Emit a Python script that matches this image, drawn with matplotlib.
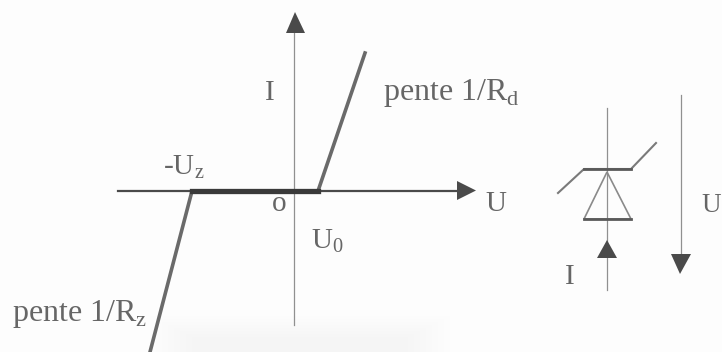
import matplotlib
matplotlib.use("Agg")
import matplotlib.pyplot as plt
from matplotlib.patches import Polygon, Rectangle

plt.rcParams['font.family'] = ['Liberation Serif', 'DejaVu Serif']
plt.rcParams['mathtext.fontset'] = 'custom'
plt.rcParams['mathtext.rm'] = 'Liberation Serif'

# characteristic I(U), in picture units
curve_u = [150, 192, 318, 365]
curve_i = [352, 191, 191, 53]

# diode symbol
bar_x = [558, 584, 631, 656]
bar_y = [193, 169, 169, 143]
tri_x = [607, 584, 631]
tri_y = [172, 219, 219]

slope_labels = ["pente 1/R$_{\\mathrm{d}}$", "pente 1/R$_{\\mathrm{z}}$"]
point_labels = ["-U$_{\\mathrm{z}}$", "U$_{\\mathrm{0}}$", "o"]
axis_labels = ["I", "U"]

DARK = "#4a4a4a"
MID = "#909090"
TEXT = "#666666"

fig = plt.figure(figsize=(7.22, 3.52), dpi=100, facecolor="#fdfdfd")
ax = fig.add_axes([0, 0, 1, 1])
ax.set_xlim(0, 722)
ax.set_ylim(352, 0)
ax.axis("off")


def put(x, y, s, size=21, ha="left"):
    ax.text(x, y, s, ha=ha, va="baseline", fontsize=size, color=TEXT)


# scan smudge at the bottom
for i in range(8):
    ax.add_patch(Rectangle((150 + 6 * i, 316 + 3 * i), 300 - 12 * i, 40, color="k", alpha=0.005, lw=0, zorder=0))

# axes of the graph
ax.plot([293.5, 293.5], [325, 30], color=MID, lw=0.9, zorder=1)
ax.plot([118, 460], [190.5, 190.5], color=DARK, lw=1.6, zorder=2)
ax.add_patch(Polygon([[286, 33], [305, 33], [295, 12]], color=DARK, lw=0, zorder=3))
ax.add_patch(Polygon([[457, 181], [457, 200], [476, 190.5]], color=DARK, lw=0, zorder=3))

# characteristic
ax.plot(curve_u, curve_i, color="#6a6a6a", lw=2.6, solid_joinstyle="miter", zorder=2)
ax.plot(curve_u[1:3], curve_i[1:3], color="#3a3a3a", lw=3.8, zorder=3)

# diode
ax.plot([607, 607], [108, 290], color=MID, lw=0.9, zorder=1)
ax.plot(bar_x, bar_y, color="#7a7a7a", lw=1.5, zorder=2)
ax.plot(bar_x[1:3], bar_y[1:3], color="#5a5a5a", lw=2.0, zorder=3)
ax.add_patch(Polygon(list(zip(tri_x, tri_y)), closed=True, fill=False, ec="#8a8a8a", lw=1.2, zorder=2))
ax.plot(tri_x[1:], tri_y[1:], color="#5a5a5a", lw=2.0, zorder=3)
ax.add_patch(Polygon([[597, 258], [617, 258], [607, 240]], color=DARK, lw=0, zorder=3))

# voltage arrow
ax.plot([680.5, 680.5], [95, 256], color=MID, lw=0.9, zorder=1)
ax.add_patch(Polygon([[671, 254], [691, 254], [680, 274]], color=DARK, lw=0, zorder=3))

put(383, 100, slope_labels[0], size=23)
put(12, 321, slope_labels[1], size=23)
put(163, 174, point_labels[0])
put(311, 248, point_labels[1])
put(279, 211, point_labels[2], ha="center")
put(270, 100, axis_labels[0], ha="center")
put(570, 284, axis_labels[0], ha="center")
put(485, 211, axis_labels[1])
put(701, 212, axis_labels[1], size=19.5)

fig.savefig("out.png", dpi=100, facecolor=fig.get_facecolor())
